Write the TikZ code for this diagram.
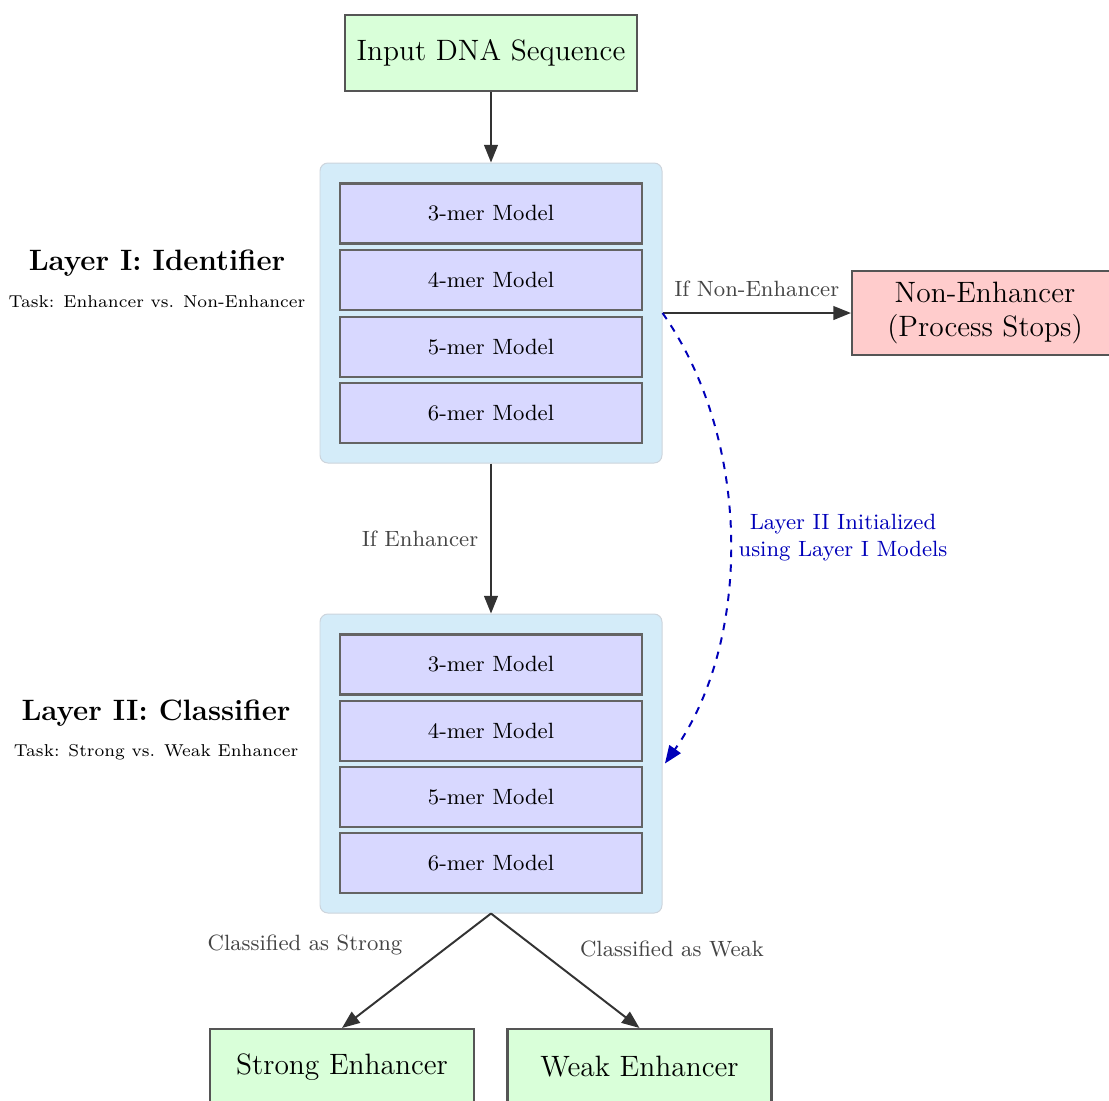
\documentclass[tikz,border=0pt]{standalone}
\usetikzlibrary{arrows.meta}
\definecolor{termgreen}{RGB}{217,255,217}
\definecolor{stoppink}{RGB}{255,204,204}
\definecolor{modelblue}{RGB}{216,216,255}
\definecolor{layerblue}{RGB}{212,236,249}
\definecolor{layeredge}{RGB}{204,212,220}
\definecolor{edgegray}{RGB}{85,85,85}
\definecolor{modeledge}{RGB}{100,100,100}
\definecolor{linegray}{RGB}{51,51,51}
\definecolor{labelgray}{RGB}{68,68,68}
\definecolor{initblue}{RGB}{0,0,185}
% one drawing unit = one pixel of the layout grid
\newcommand\pxu{0.4075pt}
\tikzset{
  px/.style={x=\pxu,y=-\pxu},
  termbox/.style={draw=edgegray,line width=0.85pt,fill=termgreen,font=\large,
    minimum width=264*\pxu,minimum height=76*\pxu,inner sep=0pt,align=center},
  stopbox/.style={termbox,fill=stoppink,minimum width=266*\pxu,minimum height=84*\pxu},
  layerbox/.style={draw=layeredge,line width=0.4pt,fill=layerblue,rounded corners=3.2pt,
    minimum width=342*\pxu,minimum height=300*\pxu,inner sep=0pt},
  modelbox/.style={draw=modeledge,line width=0.85pt,fill=modelblue,font=\small,
    minimum width=302*\pxu,minimum height=60*\pxu,inner sep=0pt},
  tip/.style={-{Triangle[length=7.2pt,width=5.6pt]}},
  flow/.style={draw=linegray,line width=0.8pt,tip},
  flowlabel/.style={text=labelgray,font=\small},
  layertitle/.style={font=\large\bfseries},
  layertask/.style={font=\scriptsize}
}
\begin{document}
\begin{tikzpicture}[px]
\useasboundingbox (0,0) rectangle (1109,1100);
\clip (0,0) rectangle (1109,1100);

% entry point
\node[termbox,minimum width=292*\pxu] (input) at (491,53) {Input DNA Sequence};

% Layer I: four k-mer identifier models
\node[layerbox] (l1) at (491,313) {};
\node[modelbox] (a3) at (491,213.5) {3-mer Model};
\node[modelbox] (a4) at (491,280) {4-mer Model};
\node[modelbox] (a5) at (491,347) {5-mer Model};
\node[modelbox] (a6) at (491,413) {6-mer Model};
\node[layertitle] (t1) at (157,263) {Layer I: Identifier};
\node[layertask] (s1) at (157,302) {Task: Enhancer vs. Non-Enhancer};

% Layer II: four k-mer classifier models
\node[layerbox,minimum height=299*\pxu] (l2) at (491,763.5) {};
\node[modelbox] (b3) at (491,664.5) {3-mer Model};
\node[modelbox] (b4) at (491,731) {4-mer Model};
\node[modelbox] (b5) at (491,797) {5-mer Model};
\node[modelbox] (b6) at (491,863) {6-mer Model};
\node[layertitle] (t2) at (156,713) {Layer II: Classifier};
\node[layertask] (s2) at (156,752) {Task: Strong vs. Weak Enhancer};

% outcomes
\node[stopbox] (stop) at (985,313) {Non-Enhancer\\(Process Stops)};
\node[termbox] (strong) at (342,1067) {Strong Enhancer};
\node[termbox] (weak) at (639.5,1067) {Weak Enhancer};

% connectors
\draw[flow] (input) -- (l1);
\draw[flow] (l1.east) -- (stop.west)
  node[flowlabel,pos=0.5,above=3pt] (lnon) {If Non-Enhancer};
\draw[flow] (l1) -- (l2)
  node[flowlabel,pos=0.5,left=1.5pt] (lenh) {If Enhancer};
\draw[flow] (l2.south) -- (strong.north);
\draw[flow] (l2.south) -- (weak.north);
\node[flowlabel] (lstrong) at (305,945) {Classified as Strong};
\node[flowlabel] (lweak) at (672,949) {Classified as Weak};

% weight transfer from Layer I to Layer II
\draw[initblue,line width=0.8pt,dashed,tip]
  (l1.east) .. controls (752,440) and (752,640) .. ([xshift=1pt]l2.east);
\node[text=initblue,font=\small,align=center] (linit) at (843,538)
  {Layer II Initialized\\using Layer I Models};
\end{tikzpicture}
\end{document}
